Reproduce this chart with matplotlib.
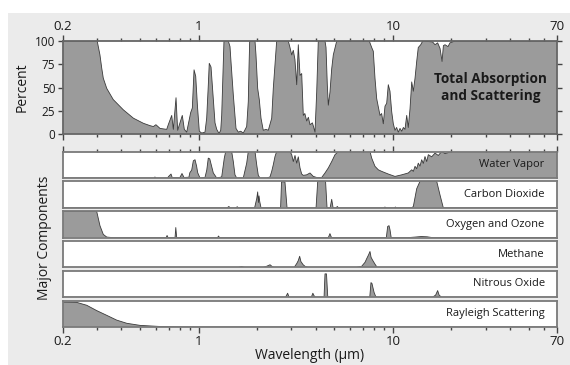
import matplotlib
matplotlib.use('Agg')
import matplotlib.pyplot as plt
from matplotlib.patches import Rectangle
from matplotlib.ticker import FixedLocator, FixedFormatter, NullFormatter

plt.rcParams['font.family'] = ['Open Sans', 'DejaVu Sans']

# ---------------- data ----------------
total_wl = [0.20, 0.30, 0.310, 0.3165, 0.3225, 0.336, 0.363, 0.409, 0.461, 0.519, 0.561, 0.584, 0.602, 0.632,
            0.684, 0.697, 0.726, 0.740, 0.764, 0.779, 0.823, 0.843, 0.867, 0.909, 0.927, 0.946, 0.965, 0.985,
            1.007, 1.036, 1.077, 1.099, 1.120, 1.133, 1.157, 1.189, 1.213, 1.238, 1.272, 1.298, 1.313, 1.349,
            1.420, 1.449, 1.466, 1.507, 1.556, 1.599, 1.645, 1.696, 1.766, 1.80, 1.815, 1.83, 1.949, 1.972,
            2.012, 2.051, 2.093, 2.150, 2.221, 2.282, 2.376, 2.421, 2.470, 2.520, 2.892, 2.951, 3.012, 3.069,
            3.13, 3.196, 3.257, 3.324, 3.391, 3.456, 3.52, 3.597, 3.67, 3.741, 3.85, 3.90, 3.970, 4.051, 4.128,
            4.470, 4.524, 4.594, 4.649, 4.742, 4.839, 4.932, 5.136, 7.557, 7.777, 7.925, 8.087, 8.252, 8.410,
            8.582, 8.75, 8.923, 9.106, 9.290, 9.469, 9.661, 9.858, 10.05, 10.25, 10.45, 10.66, 10.88, 11.10,
            11.32, 11.54, 11.78, 12.00, 12.25, 12.50, 12.74, 13.00, 13.26, 13.51, 13.91, 14.24, 16.0, 16.48,
            17.0, 17.49, 17.91, 18.2, 18.55, 19.22, 19.68, 20.88, 70]
total_pct = [100, 100, 85, 71, 60, 49, 37, 26, 17, 11.5, 9, 8, 10, 6,
             5, 10, 20, 5, 39, 4, 20, 5, 2, 23, 28, 69, 62, 30,
             3, 1, 2, 17, 52, 76, 72, 38, 12, 5, 0.5, 4, 20, 100,
             100, 94, 78, 42, 6, 2, 3, 1, 8, 35, 71, 100, 100, 85,
             49, 37, 17, 4, 5, 4, 17, 49, 74, 100, 100, 93, 85, 90,
             80, 53, 96, 63, 65, 20, 22, 14, 18, 10, 12, 8, 2, 45, 100,
             100, 93, 53, 31, 45, 70, 85, 100, 100, 93, 89, 60, 38, 29,
             20, 22, 11, 30, 33, 53, 46, 24, 11, 4, 7, 2, 6, 3,
             7, 5, 20, 7, 27, 56, 46, 60, 78, 93, 96, 100, 99, 96,
             98, 92, 78, 95, 96, 94, 98, 100, 100]

water_wl = [0.2, 0.59, 0.595, 0.60, 0.69, 0.70, 0.72, 0.73, 0.80, 0.82, 0.84, 0.89, 0.90, 0.92, 0.938, 0.957,
            0.975, 0.988, 1.015, 1.077, 1.10, 1.12, 1.14, 1.16, 1.189, 1.238, 1.313, 1.354, 1.377, 1.478, 1.507,
            1.537, 1.569, 1.696, 1.766, 1.80, 1.949, 1.989, 2.027, 2.068, 2.239, 2.328, 2.376, 2.421, 2.470,
            2.520, 2.951, 3.012, 3.069, 3.132, 3.196, 3.257, 3.324, 3.391, 3.456, 3.597, 3.741, 3.890, 4.051,
            4.298, 4.470, 4.649, 4.839, 5.033, 5.234, 7.621, 7.777, 8.087, 8.410, 8.755, 9.469, 10.25, 11.10,
            12.00, 12.50, 12.74, 13.00, 13.26, 13.51, 13.79, 14.07, 14.34, 14.63, 14.93, 15.22, 15.84, 16.48,
            17.13, 17.84, 18.55, 20.09, 70]
water_val = [0, 0, 0.04, 0, 0, 0.06, 0.15, 0.02, 0.02, 0.17, 0.02, 0.03, 0.2, 0.3, 0.65, 0.69,
             0.45, 0.2, 0, 0.02, 0.3, 0.75, 0.72, 0.5, 0.19, 0, 0.04, 0.75, 1, 1, 0.62,
             0.12, 0, 0, 0.56, 1, 1, 0.5, 0.1, 0, 0, 0.04, 0.25, 0.5, 0.81,
             1, 1, 0.88, 0.62, 0.85, 0.56, 0.8, 0.38, 0.15, 0.1, 0.12, 0.19, 0.06, 0.02,
             0.02, 0.19, 0.38, 0.62, 0.88, 1, 1, 0.75, 0.44, 0.31, 0.25, 0.15, 0.06, 0.12,
             0.19, 0.31, 0.25, 0.44, 0.35, 0.56, 0.45, 0.69, 0.55, 0.81, 0.62, 0.88, 0.8, 0.94,
             0.85, 1, 0.92, 1, 1]

co2_wl = [0.2, 1.40, 1.43, 1.45, 1.55, 1.58, 1.60, 1.94, 1.99, 2.012, 2.03, 2.044, 2.06, 2.093, 2.64, 2.67,
          2.78, 2.85, 4.02, 4.10, 4.50, 4.58, 4.75, 4.84, 4.92, 5.10, 5.17, 5.25, 9.0, 9.1, 9.2, 10.2, 10.3,
          10.4, 12.5, 12.74, 13.26, 13.79, 16.81, 17.49, 18.18, 70]
co2_val = [0, 0, 0.05, 0, 0, 0.04, 0, 0, 0.35, 0.6, 0.2, 0.45, 0.25, 0, 0, 0.98,
           0.98, 0, 0, 1, 1, 0, 0, 0.32, 0, 0, 0.05, 0, 0, 0.03, 0, 0, 0.03,
           0, 0, 0.05, 0.72, 1, 1, 0.48, 0, 0]

ozone_wl = [0.2, 0.298, 0.310, 0.3225, 0.336, 0.36, 0.68, 0.687, 0.695, 0.755, 0.762, 0.770, 1.25, 1.265,
            1.28, 4.65, 4.74, 4.83, 9.25, 9.40, 9.55, 9.66, 9.80, 12.0, 13.0, 14.0, 15.0, 16.0, 70]
ozone_val = [1, 1, 0.45, 0.12, 0.02, 0, 0, 0.08, 0, 0, 0.38, 0, 0, 0.06,
             0, 0, 0.15, 0, 0, 0.42, 0.45, 0.3, 0, 0, 0.02, 0.04, 0.03, 0, 0]

methane_wl = [0.2, 1.6, 1.66, 1.72, 2.15, 2.25, 2.33, 2.40, 2.45, 3.10, 3.20, 3.257, 3.31, 3.36, 3.45, 3.53,
              3.65, 6.5, 6.9, 7.18, 7.35, 7.5, 7.62, 7.72, 7.85, 8.09, 8.3, 70]
methane_val = [0, 0, 0.03, 0, 0, 0.05, 0.1, 0.02, 0, 0, 0.15, 0.26, 0.42, 0.22, 0.1, 0.04,
               0, 0, 0.04, 0.19, 0.35, 0.48, 0.6, 0.38, 0.28, 0.12, 0, 0]

n2o_wl = [0.2, 2.80, 2.87, 2.92, 3.80, 3.87, 3.93, 4.0, 4.42, 4.47, 4.55, 4.62, 7.60, 7.71, 7.80, 8.00,
          8.15, 8.3, 16.0, 16.6, 17.0, 17.3, 17.8, 70]
n2o_val = [0, 0, 0.15, 0, 0, 0.15, 0.05, 0, 0, 0.88, 0.88, 0, 0, 0.55, 0.52, 0.18,
           0.03, 0, 0, 0.08, 0.25, 0.08, 0, 0]

rayleigh_wl = [0.2, 0.235, 0.265, 0.298, 0.336, 0.378, 0.426, 0.50, 0.632, 0.80, 1.0, 70]
rayleigh_val = [0.94, 0.93, 0.82, 0.62, 0.44, 0.26, 0.14, 0.06, 0.02, 0.005, 0, 0]

components = [
    ("Water Vapor", water_wl, water_val),
    ("Carbon Dioxide", co2_wl, co2_val),
    ("Oxygen and Ozone", ozone_wl, ozone_val),
    ("Methane", methane_wl, methane_val),
    ("Nitrous Oxide", n2o_wl, n2o_val),
    ("Rayleigh Scattering", rayleigh_wl, rayleigh_val),
]

tick_major = [0.2, 1, 10, 70]
tick_labels = ["0.2", "1", "10", "70"]
tick_minor = [0.3, 0.4, 0.5, 0.6, 0.7, 0.8, 0.9, 2, 3, 4, 5, 6, 7, 8, 9, 20, 30, 40, 50, 60]
pct_ticks = [0, 25, 50, 75, 100]

# ---------------- styling ----------------
W, H = 570, 365
BG = '#ebebeb'
FILL = '#9b9b9b'
LINE = '#3a3a3a'
SPINE = '#7a7a7a'
TXT = '#1a1a1a'

fig = plt.figure(figsize=(W / 100, H / 100), dpi=100, facecolor='white')
fig.patches.append(Rectangle((8 / W, 0), 1 - 8 / W, 1 - 13 / H, transform=fig.transFigure,
                             facecolor=BG, edgecolor='none', zorder=-10))


def box(l, t, r, b):
    return [l / W, 1 - b / H, (r - l) / W, (b - t) / H]


def setup_x(ax):
    ax.set_xscale('log')
    ax.set_xlim(0.2, 70)
    ax.xaxis.set_major_locator(FixedLocator(tick_major))
    ax.xaxis.set_major_formatter(FixedFormatter(tick_labels))
    ax.xaxis.set_minor_locator(FixedLocator(tick_minor))
    ax.xaxis.set_minor_formatter(NullFormatter())
    for s in ax.spines.values():
        s.set_color(SPINE)
        s.set_linewidth(1.3)


# top panel
ax = fig.add_axes(box(63, 41, 557, 134))
ax.set_facecolor('white')
setup_x(ax)
for s in ax.spines.values():
    s.set_color('#666666')
ax.fill_between(total_wl, 0, total_pct, facecolor=FILL, edgecolor='none')
ax.plot(total_wl, total_pct, color=LINE, lw=0.6)
ax.set_ylim(0, 100)
ax.set_yticks(pct_ticks)
ax.tick_params(axis='x', which='both', top=True, bottom=True, labeltop=True, labelbottom=False,
               direction='out', color='#444444', labelsize=9.5, labelcolor=TXT, pad=1.5)
ax.tick_params(axis='x', which='major', length=4, width=1)
ax.tick_params(axis='x', which='minor', length=2.2, width=1)
ax.tick_params(axis='y', which='both', left=True, right=True, direction='out', length=3.5, width=1,
               color='#444444', labelsize=8.5, labelcolor=TXT, pad=2)
ax.set_ylabel("Percent", fontsize=10, color=TXT, labelpad=4)
ax.text(0.98, 0.5, "Total Absorption\nand Scattering", transform=ax.transAxes, ha='right', va='center',
        multialignment='center', fontsize=9.8, fontweight='bold', color=TXT, linespacing=1.2)

# component panels
top0, period, height = 151.5, 29.8, 26.5
axes = []
for i, (name, wl, val) in enumerate(components):
    t = top0 + i * period
    a = fig.add_axes(box(63, t, 557, t + height))
    a.set_facecolor('white')
    setup_x(a)
    a.fill_between(wl, 0, val, facecolor=FILL, edgecolor='none')
    a.plot(wl, val, color=LINE, lw=0.6)
    a.set_ylim(0, 1)
    a.set_yticks([])
    a.text(0.975, 0.5, name, transform=a.transAxes, ha='right', va='center', fontsize=8, color=TXT)
    first = i == 0
    last = i == len(components) - 1
    a.tick_params(axis='x', which='both', top=first, bottom=last, labeltop=False, labelbottom=last,
                  direction='out', color='#444444', labelsize=9.5, labelcolor=TXT, pad=1.5)
    a.tick_params(axis='x', which='major', length=4, width=1)
    a.tick_params(axis='x', which='minor', length=2.2, width=1)
    axes.append(a)

axes[-1].set_xlabel("Wavelength (\u03bcm)", fontsize=10, color=TXT, labelpad=0)
fig.text(45 / W, 1 - 238 / H, "Major Components", rotation=90, ha='center', va='center',
         fontsize=10, color=TXT)

fig.savefig('out.png', dpi=100, facecolor=fig.get_facecolor())
